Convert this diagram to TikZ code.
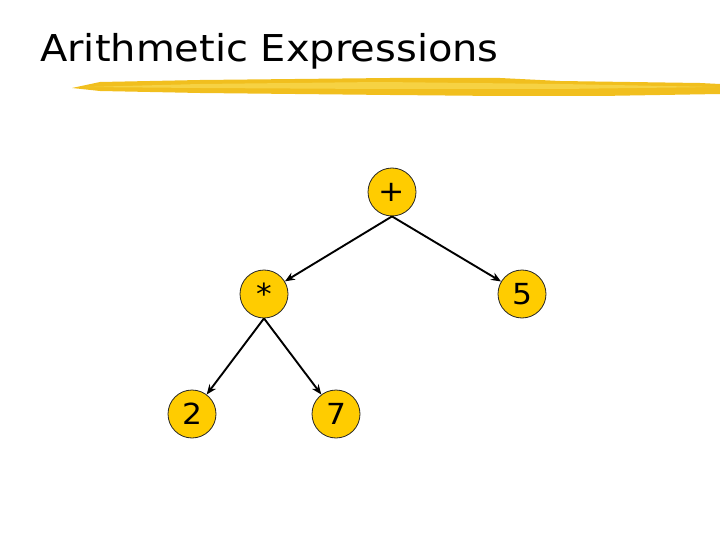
\documentclass[tikz,border=0pt]{standalone}
\usepackage{fontspec}
\setmainfont{DejaVu Sans}[FakeStretch=1.08]
\usetikzlibrary{arrows.meta}
\definecolor{nodeyellow}{HTML}{FFCC00}
\definecolor{brushdark}{HTML}{F1BF1E}
\definecolor{brushlight}{HTML}{F8D950}
\tikzset{
  opnode/.style={circle,draw=black!85,line width=0.8pt,fill=nodeyellow,minimum size=48pt,inner sep=0pt,
    font=\fontsize{29}{29}\selectfont},
  treeedge/.style={line width=1.9pt,-{Stealth[length=10pt,width=8pt]}}
}
\begin{document}
\begin{tikzpicture}[x=1pt,y=-1pt]
\useasboundingbox (0,0) rectangle (720,540);
% title and brush stroke
\node[anchor=base west,inner sep=0pt,font=\fontsize{37}{40}\selectfont] (title) at (40,62) {Arithmetic Expressions};
\fill[brushdark] (72,88) -- (100,82) -- (200,80) -- (390,78) -- (500,78) -- (560,81) -- (700,83) -- (720,84)
  -- (720,94) -- (600,96) -- (500,96) -- (390,95) -- (200,93) -- (100,91) -- cycle;
\fill[brushlight,opacity=0.75] (85,87) -- (200,84) -- (380,82) -- (560,84) -- (715,87)
  -- (560,89) -- (380,89) -- (200,88) -- cycle;
% tree
\node[opnode] (plus) at (392,192) {+};
\node[opnode] (times) at (264,294) {*};
\node[opnode] (five) at (522,294) {5};
\node[opnode] (two) at (192,414) {2};
\node[opnode] (seven) at (336,414) {7};
\draw[treeedge] (plus.south) -- (times);
\draw[treeedge] (plus.south) -- (five);
\draw[treeedge] (times.south) -- (two);
\draw[treeedge] (times.south) -- (seven);
\end{tikzpicture}
\end{document}
